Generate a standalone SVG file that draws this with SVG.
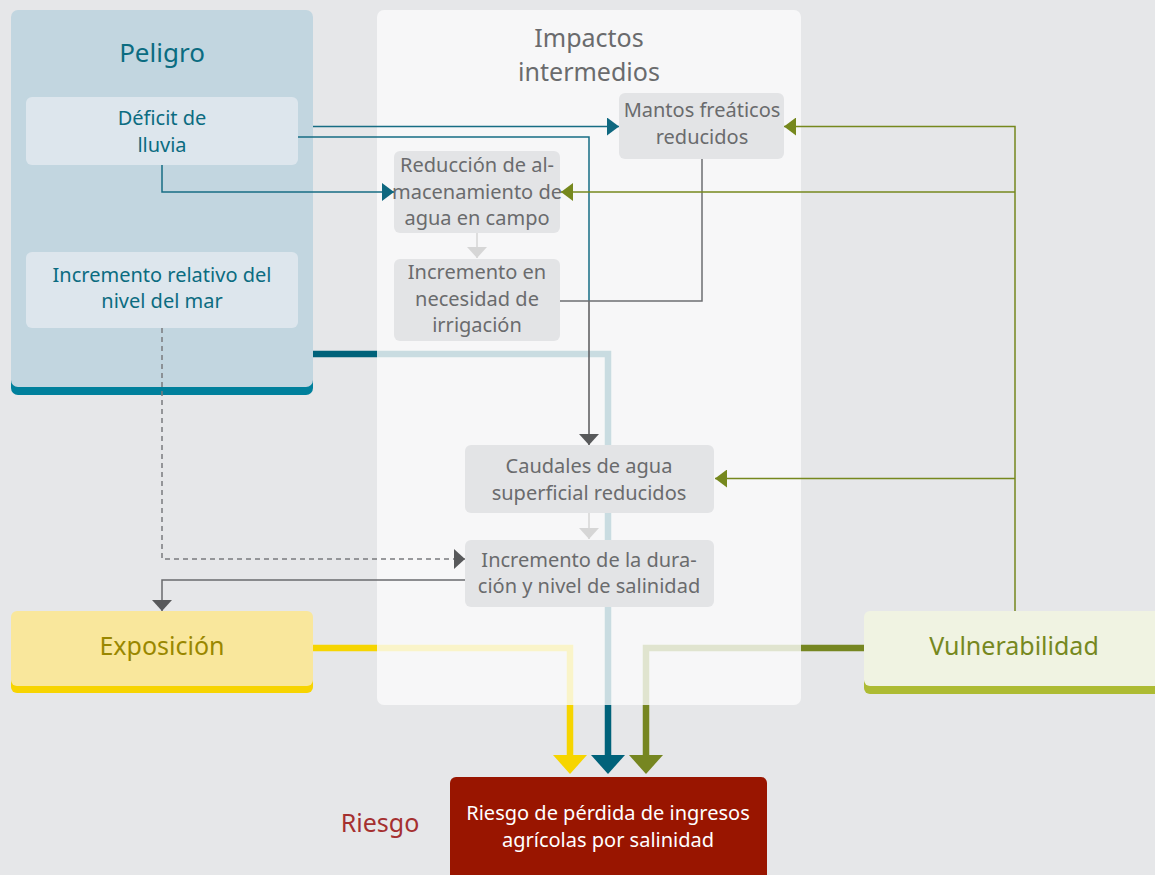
<svg xmlns="http://www.w3.org/2000/svg" width="1155" height="875" viewBox="0 0 1155 875">
<defs>
<style>
text{font-family:"Noto Sans","Liberation Sans",sans-serif;text-anchor:middle}
.t19{font-size:20px}
.big{font-size:25px}
.teal{fill:#0b6c81}
.gray{fill:#6a6b6d}
.thin{fill:none;stroke-width:1.5}
.box{fill:#e3e4e6}
</style>
<marker id="aTeal" markerWidth="12" markerHeight="18" refX="12" refY="9" orient="auto" markerUnits="userSpaceOnUse"><path d="M0,0L12,9L0,18Z" fill="#0f6880"/></marker>
<marker id="aOlive" markerWidth="12" markerHeight="18" refX="12" refY="9" orient="auto" markerUnits="userSpaceOnUse"><path d="M0,0L12,9L0,18Z" fill="#76881e"/></marker>
<marker id="aGray" markerWidth="11" markerHeight="20" refX="11" refY="10" orient="auto" markerUnits="userSpaceOnUse"><path d="M0,0L11,10L0,20Z" fill="#58595b"/></marker>
<marker id="aLight" markerWidth="11" markerHeight="20" refX="11" refY="10" orient="auto" markerUnits="userSpaceOnUse"><path d="M0,0L11,10L0,20Z" fill="#d6d6d6"/></marker>
</defs>
<rect width="1155" height="875" fill="#e6e7e9"/>

<g id="thick-connectors">
<path d="M313,354H608V757" fill="none" stroke="#00627a" stroke-width="6.5"/>
<path d="M591,755H625L608,774Z" fill="#00627a"/>
<path d="M313,648H570V757" fill="none" stroke="#f6d500" stroke-width="6.5"/>
<path d="M553,755H587L570,774Z" fill="#f6d500"/>
<path d="M864,648H646V757" fill="none" stroke="#768621" stroke-width="6.5"/>
<path d="M629,755H663L646,774Z" fill="#768621"/>
</g>

<g id="impactos-panel">
<rect x="377" y="10" width="424" height="695" rx="7" fill="#fbfbfb" opacity="0.8"/>
<text class="big gray" x="589" y="47">Impactos<tspan x="589" dy="34">intermedios</tspan></text>
</g>

<g id="peligro">
<rect x="11" y="18" width="302" height="377" rx="7" fill="#00809c"/>
<rect x="11" y="10" width="302" height="377" rx="7" fill="#c2d6e0"/>
<text class="big teal" x="162" y="62" style="font-size:26px">Peligro</text>
</g>

<g id="deficit">
<rect x="26" y="97" width="272" height="68" rx="6" fill="#dde6ed"/>
<text class="t19 teal" x="162" y="125">Déficit de<tspan x="162" dy="27">lluvia</tspan></text>
</g>

<g id="nivel-mar">
<rect x="26" y="252" width="272" height="76" rx="6" fill="#dde6ed"/>
<text class="t19 teal" x="162" y="282">Incremento relativo del<tspan x="162" dy="26">nivel del mar</tspan></text>
</g>

<g id="mantos">
<rect class="box" x="619" y="93" width="165" height="66" rx="6"/>
<text class="t19 gray" x="702" y="117">Mantos freáticos<tspan x="702" dy="27">reducidos</tspan></text>
</g>

<g id="reduccion">
<rect class="box" x="394" y="151" width="166" height="82" rx="6"/>
<text class="t19 gray" x="477" y="172">Reducción de al-<tspan x="477" dy="27">macenamiento de</tspan><tspan x="477" dy="26">agua en campo</tspan></text>
</g>

<g id="irrigacion">
<rect class="box" x="394" y="259" width="166" height="82" rx="6"/>
<text class="t19 gray" x="477" y="279">Incremento en<tspan x="477" dy="27">necesidad de</tspan><tspan x="477" dy="26">irrigación</tspan></text>
</g>

<g id="caudales">
<rect class="box" x="465" y="445" width="249" height="68" rx="6"/>
<text class="t19 gray" x="589" y="473">Caudales de agua<tspan x="589" dy="27">superficial reducidos</tspan></text>
</g>

<g id="salinidad">
<rect class="box" x="465" y="540" width="249" height="67" rx="6"/>
<text class="t19 gray" x="589" y="567">Incremento de la dura-<tspan x="589" dy="26">ción y nivel de salinidad</tspan></text>
</g>

<g id="exposicion">
<rect x="11" y="618" width="302" height="75" rx="6" fill="#f7d400"/>
<rect x="11" y="611" width="302" height="75" rx="6" fill="#f9e79c"/>
<text class="big" x="162" y="655" fill="#9a8700">Exposición</text>
</g>

<g id="vulnerabilidad">
<rect x="864" y="618" width="300" height="76" rx="6" fill="#adbb33"/>
<rect x="864" y="611" width="300" height="75" rx="6" fill="#f0f3e2"/>
<text class="big" x="1014" y="655" fill="#76881e">Vulnerabilidad</text>
</g>

<g id="riesgo">
<rect x="450" y="777" width="317" height="110" rx="6" fill="#991500"/>
<text class="t19" x="608" y="820" fill="#ffffff">Riesgo de pérdida de ingresos<tspan x="608" dy="27">agrícolas por salinidad</tspan></text>
<text class="big" x="380" y="832" fill="#a53030">Riesgo</text>
</g>

<g id="connectors">
<path class="thin" d="M313,126.5H619" stroke="#176d84" marker-end="url(#aTeal)"/>
<path class="thin" d="M298,137H589V301" stroke="#176d84"/>
<path class="thin" d="M162,165V192H394" stroke="#176d84" marker-end="url(#aTeal)"/>
<path class="thin" d="M589,301V445" stroke="#58595b" marker-end="url(#aGray)"/>
<path class="thin" d="M560,301H702V159" stroke="#6e6f71"/>
<path class="thin" d="M477,233V258" stroke="#d6d6d6" marker-end="url(#aLight)"/>
<path class="thin" d="M589,513V539" stroke="#d6d6d6" marker-end="url(#aLight)"/>
<path class="thin" d="M1015,611V126.5H784" stroke="#76881e" marker-end="url(#aOlive)"/>
<path class="thin" d="M1015,192H561" stroke="#76881e" marker-end="url(#aOlive)"/>
<path class="thin" d="M1015,478.5H715" stroke="#76881e" marker-end="url(#aOlive)"/>
<path class="thin" d="M162,328V559H465" stroke="#7a7b7d" stroke-dasharray="5,4" marker-end="url(#aGray)"/>
<path class="thin" d="M465,580H162V611" stroke="#6a6b6d" marker-end="url(#aGray)"/>
</g>
</svg>
